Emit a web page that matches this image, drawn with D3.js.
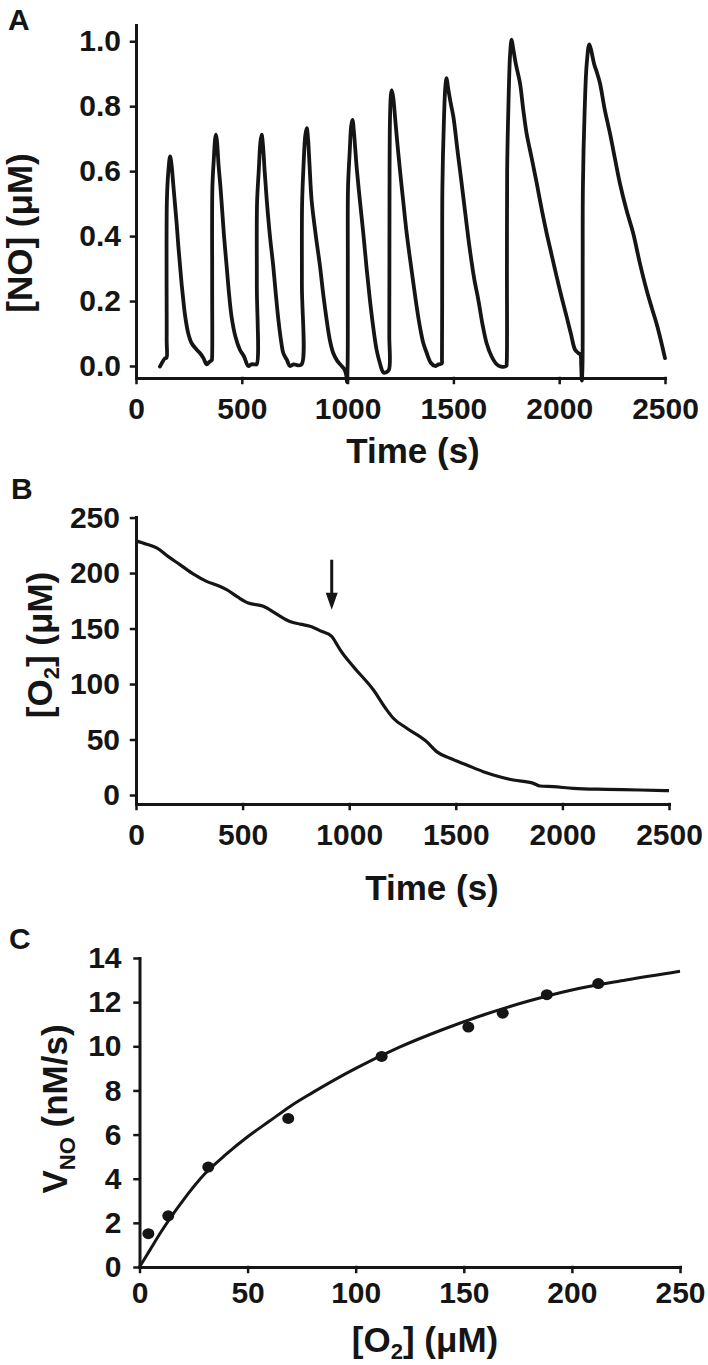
<!DOCTYPE html>
<html>
<head>
<meta charset="utf-8">
<script src="https://cdn.jsdelivr.net/npm/d3@7"></script>
<style>
  html, body { margin: 0; padding: 0; background: #fff; }
  svg text { font-family: "Liberation Sans", Arial, sans-serif; font-weight: bold; fill: #151515; }
  .axis path, .axis line { stroke: #151515; stroke-width: 3; stroke-linecap: square; }
  .axis line { stroke-width: 2.5; }
  .axis text { font-size: 30px; }
  .title { font-size: 35px; }
  .plabel { font-size: 30px; }
</style>
</head>
<body>
<script>
// ---------- Panel A: [NO] trace ----------
const aTicksX = [0, 500, 1000, 1500, 2000, 2500];
const aTicksY = [0, 0.2, 0.4, 0.6, 0.8, 1.0];
const aTrace = [
  [113,-0.002],[125,0.012],[137,0.024],[144,0.025],[145,0.08],[146,0.51],[153,0.60],[161,0.645],[168,0.62],[176,0.56],[184,0.50],[192,0.44],[200,0.37],[208,0.31],[216,0.25],[224,0.20],[232,0.155],[247,0.10],[263,0.07],[287,0.05],[302,0.04],[318,0.025],[334,0.005],[346,0.012],[358,0.018],
  [359,0.02],[360,0.25],[361,0.55],[368,0.64],[374,0.70],[378,0.712],[383,0.69],[390,0.62],[398,0.56],[405,0.50],[416,0.40],[428,0.31],[440,0.22],[452,0.15],[470,0.09],[491,0.05],[510,0.03],[531,0.00],[545,0.005],[562,0.005],
  [570,0.005],[571,0.25],[572,0.50],[580,0.60],[588,0.69],[594,0.712],[600,0.68],[608,0.60],[618,0.51],[633,0.40],[649,0.305],[661,0.22],[673,0.142],[685,0.08],[696,0.04],[712,0.02],[728,0.00],[745,0.005],[765,0.002],[783,0.005],
  [784,0.25],[785,0.50],[792,0.62],[800,0.71],[807,0.732],[813,0.70],[820,0.62],[830,0.51],[850,0.40],[870,0.305],[885,0.22],[901,0.142],[916,0.08],[932,0.04],[952,0.015],[972,0.00],[985,-0.01],[994,-0.03],[997,-0.05],
  [1000,0.0],[1001,0.30],[1002,0.55],[1010,0.66],[1017,0.74],[1023,0.758],[1030,0.72],[1036,0.67],[1043,0.61],[1058,0.51],[1074,0.41],[1090,0.30],[1106,0.20],[1121,0.12],[1137,0.05],[1152,0.01],[1169,-0.02],[1180,-0.02],[1195,-0.012],
  [1197,0.10],[1198,0.50],[1200,0.75],[1204,0.83],[1208,0.849],[1215,0.83],[1225,0.76],[1236,0.68],[1248,0.60],[1264,0.50],[1279,0.41],[1295,0.33],[1311,0.254],[1327,0.18],[1342,0.12],[1358,0.07],[1374,0.04],[1393,0.01],[1413,0.00],[1430,0.005],[1445,0.008],
  [1446,0.02],[1447,0.30],[1448,0.55],[1455,0.75],[1462,0.86],[1468,0.886],[1474,0.86],[1487,0.81],[1500,0.767],[1520,0.66],[1539,0.562],[1558,0.46],[1578,0.357],[1598,0.27],[1618,0.203],[1637,0.13],[1657,0.07],[1680,0.03],[1705,0.005],[1725,-0.002],[1750,0.0],
  [1752,0.01],[1753,0.30],[1754,0.60],[1760,0.80],[1768,0.96],[1775,1.005],[1782,0.98],[1795,0.93],[1815,0.87],[1830,0.79],[1846,0.716],[1870,0.64],[1894,0.562],[1918,0.48],[1941,0.408],[1965,0.34],[1988,0.275],[2012,0.21],[2035,0.152],[2055,0.10],[2075,0.05],[2090,0.04],[2100,0.035],[2104,0.0],[2107,-0.045],
  [2110,0.0],[2111,0.30],[2112,0.55],[2120,0.78],[2130,0.93],[2142,0.99],[2150,0.975],[2165,0.93],[2180,0.90],[2193,0.87],[2215,0.79],[2240,0.716],[2263,0.64],[2287,0.562],[2318,0.48],[2350,0.408],[2380,0.32],[2413,0.234],[2437,0.18],[2460,0.131],[2480,0.08],[2500,0.024]
];

// ---------- Panel B: [O2] trace ----------
const bTicksX = [0, 500, 1000, 1500, 2000, 2500];
const bTicksY = [0, 50, 100, 150, 200, 250];
const bTrace = [
  [0,229],[50,226],[97,222.6],[150,215],[206,207.6],[270,199],[331,192.5],[380,189],[425,185],[480,178],[527,173],[597,170],[660,163],[722,156.4],[770,154],[816,152],[870,147.5],[918,143],[935,138],[957,131],
  [1019,115.8],[1113,94.8],[1176,76.7],[1207,69.2],[1270,60.2],[1363,48.1],[1410,39.1],[1473,33.1],[1551,27.1],[1629,21.0],[1676,18.1],[1770,13.5],[1864,10.5],[1895,8.1],[1957,7.5],[2051,6.0],[2208,5.1],[2364,4.5],[2500,3.9]
];
const bArrow = { t: 918, from: 212, to: 167 };

// ---------- Panel C: V_NO vs [O2] ----------
const cTicksX = [0, 50, 100, 150, 200, 250];
const cTicksY = [0, 2, 4, 6, 8, 10, 12, 14];
const cO2 = [4.1, 13.3, 31.8, 68.8, 112, 152.1, 168, 188.4, 212.2];
const cV  = [1.51, 2.32, 4.53, 6.73, 9.54, 10.87, 11.5, 12.34, 12.84];
const cFitO2 = [0, 5, 10, 20, 30, 40, 50, 60, 70, 80, 100, 120, 140, 160, 180, 200, 225, 250];
const cFitV  = [0, 0.8, 1.6, 3.0, 4.2, 5.1, 5.9, 6.6, 7.3, 7.9, 9.0, 9.95, 10.75, 11.45, 12.05, 12.55, 13.0, 13.4];

const svg = d3.select("body").append("svg").attr("width", 708).attr("height", 1365);

function drawAxes(x, y, xTicks, yTicks, xAxisY, yAxisX, opts) {
  const gx = svg.append("g").attr("class", "axis").attr("transform", `translate(0,${xAxisY})`)
    .call(d3.axisBottom(x).tickValues(xTicks).tickSize(5).tickPadding(opts.xPad).tickSizeOuter(0).tickFormat(opts.xFmt || d3.format("d")));
  const gy = svg.append("g").attr("class", "axis").attr("transform", `translate(${yAxisX},0)`)
    .call(d3.axisLeft(y).tickValues(yTicks).tickSize(5).tickPadding(opts.yPad).tickSizeOuter(0).tickFormat(opts.yFmt || d3.format("d")));
  [gx, gy].forEach(g => g.selectAll("text").attr("fill", "#151515").style("font-family", '"Liberation Sans", Arial, sans-serif'));
}

// Panel A
const xA = d3.scaleLinear().domain([0, 2500]).range([136, 665]);
const yA = d3.scaleLinear().domain([-0.037, 1.05]).range([378, 25]);
drawAxes(xA, yA, aTicksX, aTicksY, 378, 136, { xPad: 15, yPad: 10, yFmt: d3.format(".1f") });
svg.append("path").datum(aTrace)
  .attr("d", d3.line().x(d => xA(d[0])).y(d => yA(d[1])).curve(d3.curveCatmullRom.alpha(0.5)))
  .attr("fill", "none").attr("stroke", "#151515").attr("stroke-width", 3.8).attr("stroke-linejoin", "round").attr("stroke-linecap", "round");
svg.append("text").attr("class", "plabel").attr("x", 8).attr("y", 30).text("A");
svg.append("text").attr("class", "title").attr("text-anchor", "middle").attr("x", 413).attr("y", 463).text("Time (s)");
svg.append("text").attr("class", "title").attr("text-anchor", "middle")
  .attr("transform", "translate(32,233) rotate(-90)").text("[NO] (μM)");

// Panel B
const xB = d3.scaleLinear().domain([0, 2500]).range([136, 669]);
const yB = d3.scaleLinear().domain([-8.1, 250.5]).range([804, 517]);
drawAxes(xB, yB, bTicksX, bTicksY, 804, 136, { xPad: 15, yPad: 11 });
svg.append("path").datum(bTrace)
  .attr("d", d3.line().x(d => xB(d[0])).y(d => yB(d[1])).curve(d3.curveMonotoneX))
  .attr("fill", "none").attr("stroke", "#151515").attr("stroke-width", 3.2).attr("stroke-linejoin", "round");
// arrow
const ax = xB(bArrow.t), ay1 = yB(bArrow.from), ay2 = yB(bArrow.to);
svg.append("line").attr("x1", ax).attr("x2", ax).attr("y1", ay1).attr("y2", ay2 - 12)
  .attr("stroke", "#151515").attr("stroke-width", 3);
svg.append("path").attr("d", `M${ax - 6},${ay2 - 17}L${ax + 6},${ay2 - 17}L${ax},${ay2}Z`).attr("fill", "#151515");
svg.append("text").attr("class", "plabel").attr("x", 11).attr("y", 499).text("B");
svg.append("text").attr("class", "title").attr("text-anchor", "middle").attr("x", 432).attr("y", 900).text("Time (s)");
const tB = svg.append("text").attr("class", "title").attr("text-anchor", "middle")
  .attr("transform", "translate(52,645) rotate(-90)");
tB.append("tspan").text("[O");
tB.append("tspan").attr("font-size", "22px").attr("dy", 7).text("2");
tB.append("tspan").attr("dy", -7).text("] (μM)");

// Panel C
const xC = d3.scaleLinear().domain([0, 250]).range([139.5, 680]);
const yC = d3.scaleLinear().domain([0, 14]).range([1267, 958]);
drawAxes(xC, yC, cTicksX, cTicksY, 1267, 139.5, { xPad: 10, yPad: 13 });
svg.append("path").datum(cFitO2.map((o, i) => [o, cFitV[i]]))
  .attr("d", d3.line().x(d => xC(d[0])).y(d => yC(d[1])).curve(d3.curveMonotoneX))
  .attr("fill", "none").attr("stroke", "#151515").attr("stroke-width", 3);
svg.append("g").selectAll("ellipse").data(cO2.map((o, i) => [o, cV[i]])).join("ellipse")
  .attr("cx", d => xC(d[0])).attr("cy", d => yC(d[1])).attr("rx", 6).attr("ry", 5.5)
  .attr("fill", "#151515");
svg.append("text").attr("class", "plabel").attr("x", 9).attr("y", 949).text("C");
const tCx = svg.append("text").attr("class", "title").attr("text-anchor", "middle").attr("x", 425).attr("y", 1352);
tCx.append("tspan").text("[O");
tCx.append("tspan").attr("font-size", "22px").attr("dy", 7).text("2");
tCx.append("tspan").attr("dy", -7).text("] (μM)");
const tCy = svg.append("text").attr("class", "title").attr("text-anchor", "middle")
  .attr("transform", "translate(67,1109) rotate(-90)");
tCy.append("tspan").text("V");
tCy.append("tspan").attr("font-size", "22px").attr("dy", 8).text("NO");
tCy.append("tspan").attr("dy", -8).text(" (nM/s)");
</script>
</body>
</html>
